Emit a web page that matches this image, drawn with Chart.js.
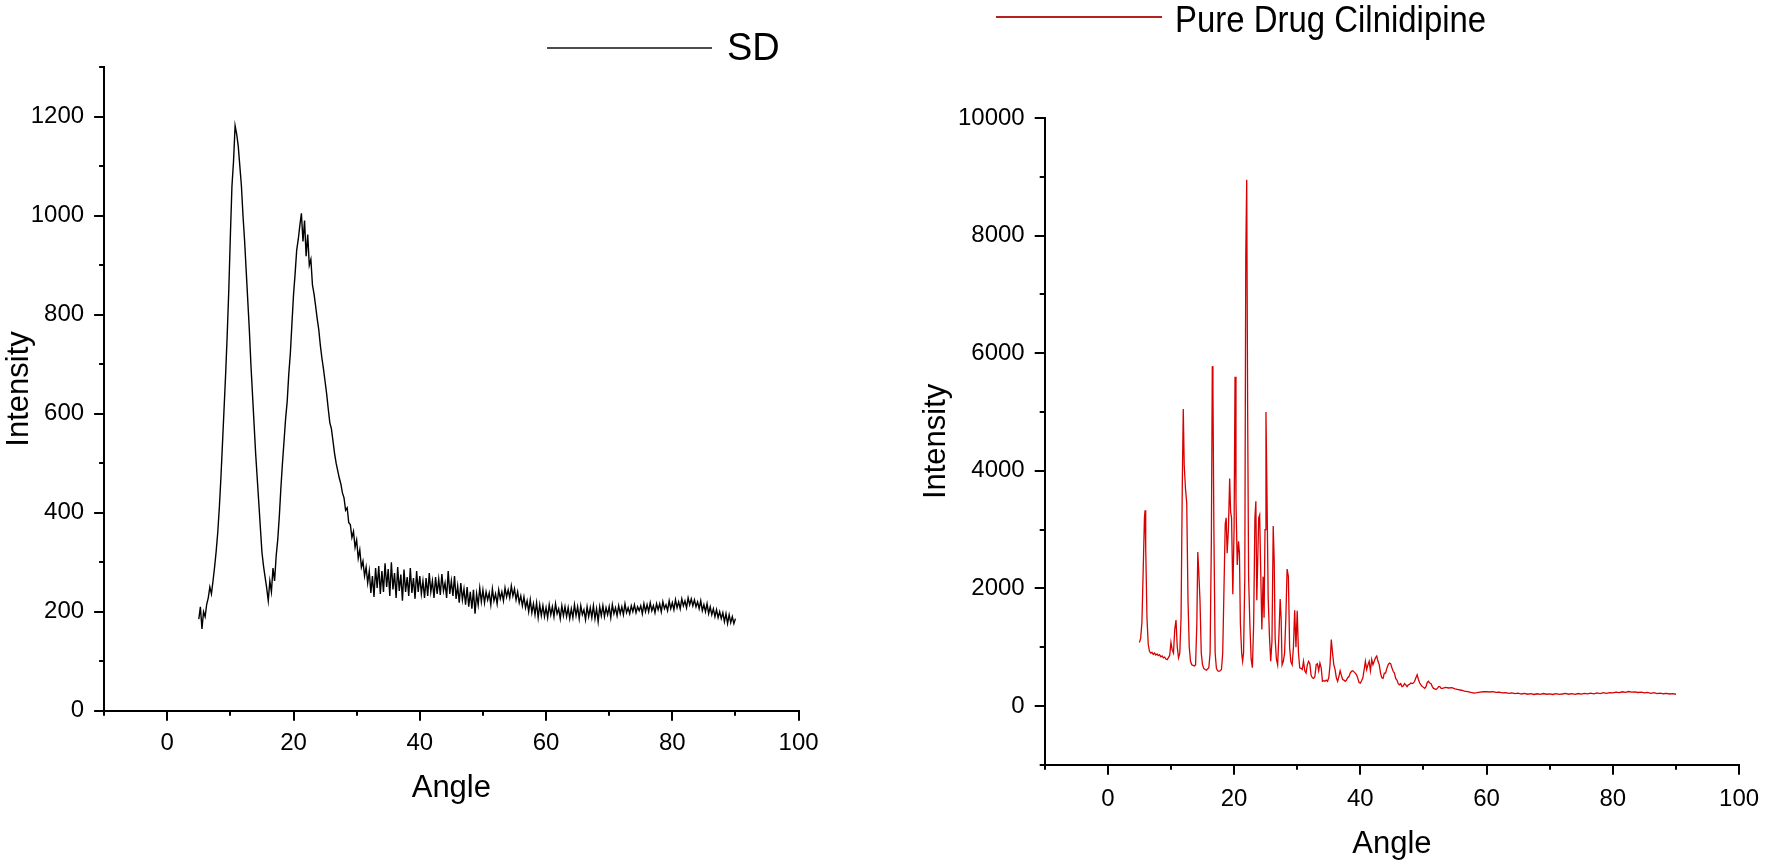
<!DOCTYPE html>
<html><head><meta charset="utf-8">
<script src="https://cdn.jsdelivr.net/npm/chart.js@4.4.1/dist/chart.umd.min.js"></script>
<style>
html,body{margin:0;padding:0;background:#fff;}
#wrap{position:relative;width:1771px;height:866px;overflow:hidden;background:#fff;}
canvas{position:absolute;left:0;top:0;}
.lg-line{position:absolute;height:2px;}
.lg-text{position:absolute;font-family:'Liberation Sans',Arial,sans-serif;font-size:36px;line-height:36px;color:#000;white-space:nowrap;transform-origin:0 50%;}
</style></head>
<body><div id="wrap">
<canvas id="c1" width="1771" height="866"></canvas>
<canvas id="c2" width="1771" height="866"></canvas>
<div class="lg-line" style="left:547px;top:47px;width:165px;background:#4d4d4d"></div>
<div class="lg-text" style="left:727px;top:28px;font-size:38px;line-height:38px">SD</div>
<div class="lg-line" style="left:996px;top:16px;width:166px;background:#b52020"></div>
<div class="lg-text" style="left:1175px;top:1px;font-size:37px;line-height:37px;transform:scaleX(0.89)">Pure Drug Cilnidipine</div>
</div>
<script>
// ---------- data ----------
const sdLabel = 'SD';
const cilLabel = 'Pure Drug Cilnidipine';
const xTitle = 'Angle';
const yTitle = 'Intensity';

const xTicks = [0, 20, 40, 60, 80, 100];
const xMinor = [-10, 10, 30, 50, 70, 90];
const sdYTicks = [0, 200, 400, 600, 800, 1000, 1200];
const sdYMinor = [100, 300, 500, 700, 900, 1100, 1300];
const cilYTicks = [0, 2000, 4000, 6000, 8000, 10000];
const cilYMinor = [-1000, 1000, 3000, 5000, 7000, 9000];

const sdAngle = [
5,5.25,5.5,5.75,6,6.25,6.5,6.75,7,7.25,7.5,7.75,8,8.25,8.5,8.75,9,9.25,9.5,9.75,
10,10.25,10.5,10.75,11,11.25,11.5,11.75,12,12.25,12.5,12.75,13,13.25,13.5,13.75,14,14.25,14.5,14.75,
15,15.25,15.5,15.75,16,16.25,16.5,16.75,17,17.25,17.5,17.75,18,18.25,18.5,18.75,19,19.25,19.5,19.75,
20,20.25,20.5,20.75,21,21.25,21.5,21.75,22,22.25,22.5,22.75,23,23.25,23.5,23.75,24,24.25,24.5,24.75,
25,25.25,25.5,25.75,26,26.25,26.5,26.75,27,27.25,27.5,27.75,28,28.25,28.5,28.75,29,29.25,29.5,29.75,
30,30.25,30.5,30.75,31,31.25,31.5,31.75,32,32.25,32.5,32.75,33,33.25,33.5,33.75,34,34.25,34.5,34.75,
35,35.25,35.5,35.75,36,36.25,36.5,36.75,37,37.25,37.5,37.75,38,38.25,38.5,38.75,39,39.25,39.5,39.75,
40,40.25,40.5,40.75,41,41.25,41.5,41.75,42,42.25,42.5,42.75,43,43.25,43.5,43.75,44,44.25,44.5,44.75,
45,45.25,45.5,45.75,46,46.25,46.5,46.75,47,47.25,47.5,47.75,48,48.25,48.5,48.75,49,49.25,49.5,49.75,
50,50.25,50.5,50.75,51,51.25,51.5,51.75,52,52.25,52.5,52.75,53,53.25,53.5,53.75,54,54.25,54.5,54.75,
55,55.25,55.5,55.75,56,56.25,56.5,56.75,57,57.25,57.5,57.75,58,58.25,58.5,58.75,59,59.25,59.5,59.75,
60,60.25,60.5,60.75,61,61.25,61.5,61.75,62,62.25,62.5,62.75,63,63.25,63.5,63.75,64,64.25,64.5,64.75,
65,65.25,65.5,65.75,66,66.25,66.5,66.75,67,67.25,67.5,67.75,68,68.25,68.5,68.75,69,69.25,69.5,69.75,
70,70.25,70.5,70.75,71,71.25,71.5,71.75,72,72.25,72.5,72.75,73,73.25,73.5,73.75,74,74.25,74.5,74.75,
75,75.25,75.5,75.75,76,76.25,76.5,76.75,77,77.25,77.5,77.75,78,78.25,78.5,78.75,79,79.25,79.5,79.75,
80,80.25,80.5,80.75,81,81.25,81.5,81.75,82,82.25,82.5,82.75,83,83.25,83.5,83.75,84,84.25,84.5,84.75,
85,85.25,85.5,85.75,86,86.25,86.5,86.75,87,87.25,87.5,87.75,88,88.25,88.5,88.75,89,89.25,89.5,89.75,
90];

const sdIntensity = [
185,210,165,200, 190,215,228,250, 236,262,290,322, 360,410,470,540, 610,680,760,850,
960,1060,1110,1182, 1165,1140,1100,1060, 1000,950,890,830, 770,700,640,580, 520,470,420,370,
320,292,270,248, 222,262,240,288, 262,312,345,392, 450,500,545,590, 625,680,722,782,
840,882,930,952, 980,1005,948,990, 918,962,900,912, 860,842,818,792, 770,738,712,690,
665,640,610,582, 570,545,520,500, 485,470,458,440, 430,405,410,380, 376,350,362,330,
345,308,325,290, 302,272,290,258, 282,238,272,230, 288,248,292,236, 282,240,298,250,
286,232,300,245, 278,228,290,242, 275,222,285,240, 270,232,288,238, 268,226,282,240,
272,236,262,228, 268,232,278,240, 262,228,270,236, 266,234,276,242, 258,228,282,236,
262,232,272,226, 252,218,258,224, 246,214,250,210, 240,206,244,196, 236,214,248,220,
244,218,240,224, 238,214,246,222, 236,216,244,226, 240,222,248,230, 244,228,252,232,
246,224,240,218, 232,212,230,208, 222,200,224,198, 216,194,218,188, 214,192,212,190,
208,188,214,194, 210,190,216,196, 206,186,212,192, 210,190,208,186, 206,188,214,192,
210,186,212,194, 204,184,210,190, 208,188,212,186, 206,180,210,192, 212,190,208,194,
210,188,214,196, 208,192,212,196, 210,194,216,198, 208,196,212,200, 214,198,210,202,
212,196,216,200, 214,200,218,202, 212,198,216,204, 216,200,220,206, 214,202,222,206,
218,204,224,208, 220,206,226,212, 222,208,228,214, 226,212,224,210, 220,206,222,202,
214,200,216,196, 210,194,206,190, 204,188,200,186, 198,180,196,176, 194,178,190,176,
186];

const cilAngle = [
5,5.2,5.4,5.6,5.8,5.9,6,6.2,6.4,6.6,6.8,7,7.2,7.4,7.6,7.8,8,8.2,8.4,8.6,8.8,9,9.2,9.4,9.6,9.8,
10,10.2,10.4,10.6,10.8,11,11.2,11.4,11.6,11.8,11.95,12.1,12.3,12.5,12.7,12.9,13.1,13.3,13.5,13.7,13.9,
14.1,14.25,14.4,14.6,14.8,15,15.2,15.4,15.6,15.8,16,16.2,16.4,16.55,16.65,16.8,17,17.2,17.4,17.6,17.8,
18,18.2,18.4,18.6,18.75,18.9,19.1,19.3,19.45,19.6,19.8,20,20.15,20.3,20.5,20.7,20.85,21,21.2,21.35,21.5,21.7,21.85,
22,22.15,22.3,22.5,22.7,22.9,23.1,23.3,23.45,23.6,23.75,23.9,24.05,24.2,24.4,24.6,24.75,24.9,25.05,25.2,25.4,25.6,25.8,
26,26.2,26.35,26.5,26.7,26.9,27.1,27.3,27.45,27.6,27.8,28,28.2,28.4,28.6,28.8,29,29.2,29.4,29.6,29.8,
30,30.2,30.4,30.6,30.8,31,31.2,31.4,31.6,31.8,32,32.2,32.4,32.6,32.8,33,33.2,33.4,33.6,33.8,
34,34.2,34.4,34.6,34.8,35,35.2,35.4,35.6,35.8,36,36.2,36.4,36.6,36.8,37,37.2,37.4,37.6,37.8,
38,38.2,38.4,38.6,38.8,39,39.2,39.4,39.6,39.8,40,40.2,40.4,40.6,40.8,41,41.2,41.4,41.6,41.8,
42,42.2,42.4,42.6,42.8,43,43.2,43.4,43.6,43.8,44,44.2,44.4,44.6,44.8,45,45.2,45.4,45.6,45.8,
46,46.2,46.4,46.6,46.8,47,47.2,47.4,47.6,47.8,48,48.2,48.4,48.6,48.8,49,49.2,49.4,49.6,49.8,
50,50.2,50.4,50.6,50.8,51,51.2,51.4,51.6,51.8,52,52.2,52.4,52.6,52.8,53,
53.5,54,54.5,55,55.5,56,56.5,57,57.5,58,58.5,59,59.5,60,60.5,61,61.5,62,62.5,63,63.5,64,64.5,
65,65.5,66,66.5,67,67.5,68,68.5,69,69.5,70,70.5,71,71.5,72,72.5,73,73.5,74,74.5,75,75.5,76,76.5,
77,77.5,78,78.5,79,79.5,80,80.5,81,81.5,82,82.5,83,83.5,84,84.5,85,85.5,86,86.5,87,87.5,88,88.5,
89,89.5,90];

const cilIntensity = [
1080,1150,1420,2300,3200,3330,2700,1500,1050,930,900,912,878,900,868,884,856,872,838,852,818,832,798,788,822,860,
1080,950,900,1300,1460,1000,820,900,1500,3800,5050,4100,3700,3450,1800,1000,760,700,690,680,700,
1400,2620,2300,1800,900,700,640,620,610,630,650,900,2800,5780,5400,3000,900,640,600,590,600,
620,900,2000,3100,3200,2600,3000,3870,3300,3200,1900,3000,5600,3500,2400,2800,2600,1400,900,760,900,2200,7650,
8950,5000,2200,1400,800,650,1400,3200,3480,1800,2500,3200,3250,2400,1300,2200,1500,3000,5000,3700,1850,1200,760,
1100,3060,2500,1160,800,700,1200,1820,1500,700,760,900,1500,2330,2200,990,750,700,1000,1630,1000,
1620,900,650,640,620,760,600,560,700,760,720,520,480,470,500,700,720,600,730,650,
420,430,420,440,420,480,700,1130,900,700,620,480,420,500,600,520,450,440,420,440,
480,500,560,590,600,580,560,530,470,400,390,430,480,620,760,620,700,760,600,790,
700,760,820,850,760,700,560,480,470,560,560,640,700,730,720,650,590,560,470,440,
380,360,380,330,340,380,360,330,360,370,390,380,390,420,480,530,450,390,360,330,
320,300,330,400,420,390,380,330,300,290,280,300,330,330,300,300,
318,306,312,292,280,268,252,244,230,218,226,236,242,246,238,244,232,236,224,228,216,222,210,
218,204,214,200,210,196,208,198,212,200,206,196,210,198,204,214,200,210,198,212,202,216,206,220,
208,222,212,226,214,228,224,236,228,242,232,246,236,240,230,236,222,230,216,226,212,220,208,214,
204,210,200];

// ---------- rendering ----------
Chart.defaults.font.family = "'Liberation Sans', Arial, sans-serif";
Chart.defaults.color = '#000';

const minorTicks = {
  id: 'minorTicks',
  afterDraw(chart, args, opts) {
    const ctx = chart.ctx, xs = chart.scales.x, ys = chart.scales.y;
    ctx.save();
    ctx.strokeStyle = '#000';
    ctx.lineWidth = 2;
    (opts.x || []).forEach(v => {
      const p = Math.round(xs.getPixelForValue(v));
      ctx.beginPath(); ctx.moveTo(p, xs.top); ctx.lineTo(p, xs.top + 5); ctx.stroke();
    });
    (opts.y || []).forEach(v => {
      const p = Math.round(ys.getPixelForValue(v));
      ctx.beginPath(); ctx.moveTo(ys.right - 5, p); ctx.lineTo(ys.right, p); ctx.stroke();
    });
    ctx.restore();
  }
};

function makeChart(canvasId, cfg) {
  const pts = cfg.angle.map((a, i) => ({ x: a, y: cfg.values[i] }));
  return new Chart(document.getElementById(canvasId), {
    type: 'line',
    data: { datasets: [{
      label: cfg.label, data: pts, borderColor: cfg.color, borderWidth: cfg.lineWidth,
      pointRadius: 0, tension: 0, fill: false
    }] },
    options: {
      responsive: false, animation: false, events: [],
      layout: { padding: cfg.pad },
      plugins: {
        legend: { display: false }, tooltip: { enabled: false }, title: { display: false },
        minorTicks: { x: xMinor, y: cfg.yMinor }
      },
      scales: {
        x: {
          type: 'linear', min: -10, max: 100,
          afterBuildTicks: s => { s.ticks = xTicks.map(v => ({ value: v })); },
          afterFit: s => { s.height = cfg.xH; },
          grid: { display: true, drawOnChartArea: false, drawTicks: true, tickLength: 10, color: '#000', lineWidth: 2 },
          border: { display: true, color: '#000', width: 2 },
          ticks: { font: { size: 24 }, color: '#000', padding: cfg.xTickPad, maxRotation: 0, autoSkip: false, callback: v => String(v) },
          title: { display: true, text: xTitle, font: { size: 31, lineHeight: 1 }, color: '#000', padding: 0 }
        },
        y: {
          type: 'linear', min: cfg.yMin, max: cfg.yMax,
          afterBuildTicks: s => { s.ticks = cfg.yTicks.map(v => ({ value: v })); },
          afterFit: s => { s.width = cfg.yW; },
          grid: { display: true, drawOnChartArea: false, drawTicks: true, tickLength: 10, color: '#000', lineWidth: 2 },
          border: { display: true, color: '#000', width: 2 },
          ticks: { font: { size: 24 }, color: '#000', padding: 10, autoSkip: false, callback: v => String(v) },
          title: { display: true, text: yTitle, font: { size: 31, lineHeight: 1 }, color: '#000', padding: 0 }
        }
      }
    },
    plugins: [minorTicks]
  });
}

makeChart('c1', {
  label: sdLabel, angle: sdAngle, values: sdIntensity, color: '#000', lineWidth: 1.4,
  yMin: 0, yMax: 1300, yTicks: sdYTicks, yMinor: sdYMinor,
  pad: { left: 4, right: 972.4, top: 67.2, bottom: 61.9 }, xH: 93.4, yW: 100.1, xTickPad: 8
});

makeChart('c2', {
  label: cilLabel, angle: cilAngle, values: cilIntensity, color: '#d80000', lineWidth: 1.3,
  yMin: -1000, yMax: 10000, yTicks: cilYTicks, yMinor: cilYMinor,
  pad: { left: 920.5, right: 31.9, top: 118, bottom: 6.4 }, xH: 94.8, yW: 124.2, xTickPad: 10
});
</script>
</body></html>
